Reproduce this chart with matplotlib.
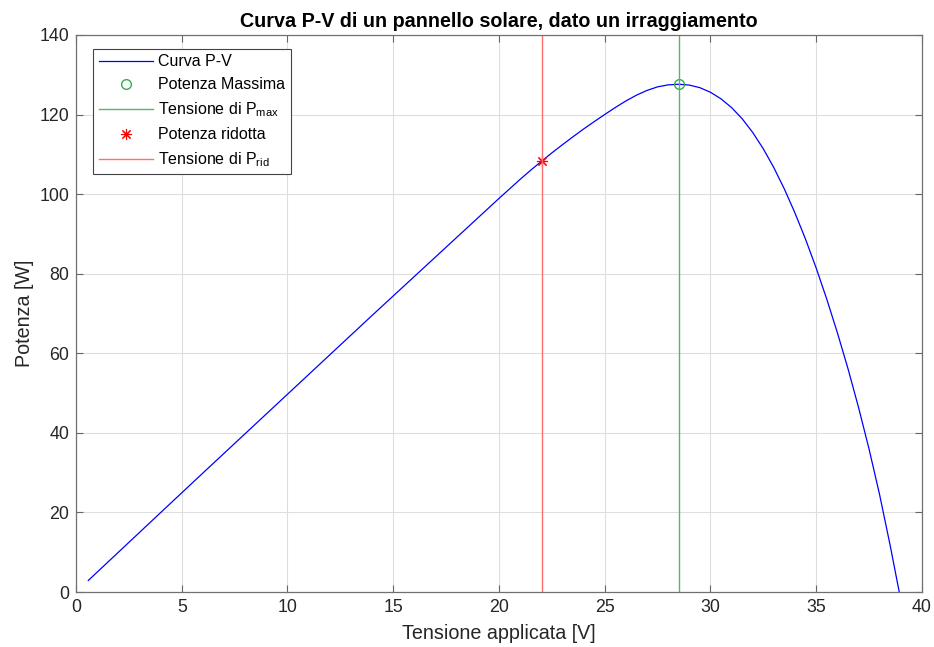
"""
Curva P-V di un pannello solare (ricostruzione del grafico MATLAB)
"""

import matplotlib.pyplot as plt

# tensione [V] e potenza [W]
tensione = [0.58, 2, 4, 6, 8, 10, 12, 14, 16, 18, 20, 20.5, 21, 21.5, 22,
            22.5, 23, 23.5, 24, 24.5, 25, 25.5, 26, 26.5, 27, 27.5, 28, 28.5,
            29, 29.5, 30, 30.5, 31, 31.5, 32, 32.5, 33, 33.5, 34, 34.5, 35,
            35.5, 36, 36.5, 37, 37.5, 38, 38.5, 38.93]
potenza = [2.9, 9.98, 19.95, 29.9, 39.8, 49.7, 59.6, 69.5, 79.3, 89.1, 98.9,
           101.3, 103.7, 106.0, 108.2, 110.35, 112.4, 114.4, 116.35, 118.2,
           120.0, 121.75, 123.4, 124.85, 126.05, 126.95, 127.45, 127.6, 127.4,
           126.75, 125.6, 123.95, 121.75, 118.95, 115.5, 111.4, 106.65,
           101.25, 95.25, 88.65, 81.45, 73.65, 65.25, 56.25, 46.5, 36.0, 24.5,
           11.75, 0.0]

v_max, p_max = 28.51, 127.6
v_rid, p_rid = 22.05, 108.4

plt.rcParams["font.family"] = ["Liberation Sans", "DejaVu Sans"]
plt.rcParams["mathtext.default"] = "regular"

fig = plt.figure(figsize=(9.34, 6.47), dpi=100)
ax = fig.add_axes([0.0814, 0.085, 0.9056, 0.861])

ax.plot(tensione, potenza, color="blue", linewidth=0.9, label="Curva P-V")
ax.plot(v_max, p_max, linestyle="none", marker="o", markersize=7,
        markerfacecolor="none", markeredgecolor="#3aa856", markeredgewidth=1,
        label="Potenza Massima")
ax.axvline(v_max, color="#55b56a", linewidth=1, label=r"Tensione di P$_{max}$")
ax.plot(v_rid, p_rid, linestyle="none", marker=(8, 2, 0), markersize=8,
        color="red", markeredgewidth=0.8, label="Potenza ridotta")
ax.axvline(v_rid, color="#ff6f6f", linewidth=1, label=r"Tensione di P$_{rid}$")

ax.set_xlim(0, 40)
ax.set_ylim(0, 140)
ax.set_xticks(range(0, 41, 5))
ax.set_yticks(range(0, 141, 20))
ax.grid(True, color="#dedede", linewidth=0.8)
ax.set_axisbelow(True)
ax.tick_params(direction="in", top=True, right=True, length=5, pad=5,
               colors="#666666", labelcolor="#262626", labelsize=12.8)
for spine in ax.spines.values():
    spine.set_color("#707070")
    spine.set_linewidth(0.9)

ax.set_title("Curva P-V di un pannello solare, dato un irraggiamento",
             fontsize=14.2, fontweight="bold", color="black", pad=6)
ax.set_xlabel("Tensione applicata [V]", fontsize=14.2, color="#262626", labelpad=6)
ax.set_ylabel("Potenza [W]", fontsize=14.2, color="#262626", labelpad=4)

leg = ax.legend(loc="upper left", bbox_to_anchor=(0.020, 0.975), fontsize=11.5,
                fancybox=False, edgecolor="#444444", framealpha=1,
                borderpad=0.35, labelspacing=0.5, handlelength=3.4,
                handletextpad=0.35, borderaxespad=0)
leg.get_frame().set_linewidth(0.8)

fig.savefig("out.png", dpi=100)
